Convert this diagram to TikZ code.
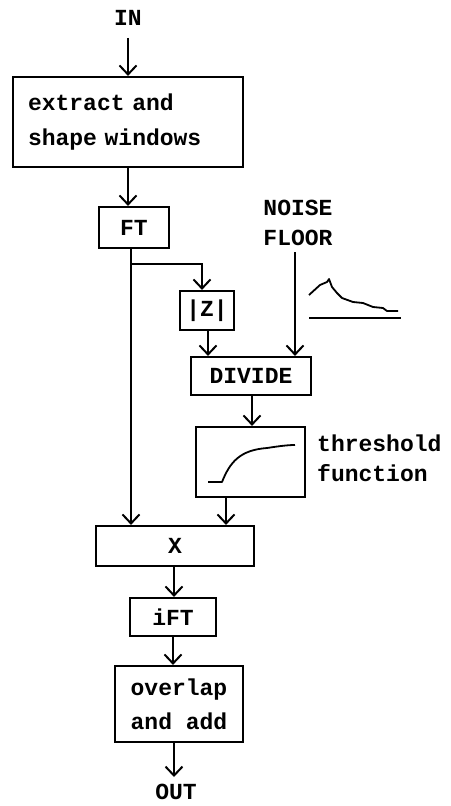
\documentclass[tikz,border=0pt]{standalone}
\usepackage{fontspec}
\setmainfont{Liberation Mono}
\usetikzlibrary{arrows.meta}
\begin{document}
\begin{tikzpicture}[x=1pt,y=-1pt,
  every node/.style={font=\fontsize{23}{30}\selectfont\bfseries, inner sep=0pt},
  blk/.style={draw, line width=2.2pt, inner sep=0pt},
  arr/.style={line width=2pt, -{Straight Barb[length=9pt,width=17pt,line width=2pt]}},
  ln/.style={line width=1.8pt, line join=round}]
\useasboundingbox (0,0) rectangle (450,806);
\node (in) at (128,18) {IN};
\node[blk, minimum width=230pt, minimum height=90pt, text width=200pt, align=left,
  font=\fontsize{23}{35}\selectfont\bfseries] (win) at (128,122) {extract and\\shape windows};
\node[blk, minimum width=70pt, minimum height=41pt] (ft) at (134,227.5) {FT};
\node[blk, minimum width=54pt, minimum height=39pt] (abs) at (207,310.5) {|Z|};
\node[align=center] (noise) at (298,223) {NOISE\\FLOOR};
\node[blk, minimum width=120pt, minimum height=38pt] (div) at (251,376) {DIVIDE};
\node[blk, minimum width=109pt, minimum height=70pt] (thr) at (250.5,462) {};
\node[align=left, anchor=west] (thrlab) at (317,458) {threshold\\function};
\node[blk, minimum width=158pt, minimum height=40pt] (x) at (175,546) {X};
\node[blk, minimum width=86pt, minimum height=38pt] (ift) at (173,617) {iFT};
\node[blk, minimum width=128pt, minimum height=76pt, align=center,
  font=\fontsize{23}{34}\selectfont\bfseries] (ola) at (179,704) {overlap\\and add};
\node (out) at (176,792) {OUT};
% connectors
\draw[arr, shorten <=12pt] (in.south) -- (in.south |- win.north);
\draw[arr] (win.south) -- (win.south |- ft.north);
\coordinate (ftl) at ([xshift=-3pt]ft.south);
\draw[arr] (ftl) -- (ftl |- x.north);
\coordinate (brk) at ([yshift=-15pt]ftl);
\coordinate (abst) at ([xshift=-5pt]abs.north);
\draw[arr] (brk) -| (abst);
\draw[arr] ([xshift=1pt]abs.south) -- ([xshift=1pt]abs.south |- div.north);
\coordinate (nft) at (295,252);
\draw[arr] (nft) -- (nft |- div.north);
\draw[arr] ([xshift=1pt]div.south) -- ([xshift=1pt]div.south |- thr.north);
\draw[arr] ([xshift=-24.5pt]thr.south) -- ([xshift=-24.5pt]thr.south |- x.north);
\draw[arr] ([xshift=-1pt]x.south) -- ([xshift=-1pt]x.south |- ift.north);
\draw[arr] (ift.south) -- (ift.south |- ola.north);
\coordinate (oute) at (174,777);
\draw[arr] (ola.south -| oute) -- (oute);
% threshold curve
\draw[ln] (208,482) -- (222,482) .. controls (230,462) and (240,450) .. (267,448) .. controls (280,446) and (288,445) .. (295,445);
% noise floor spectrum
\draw[ln] (309,295) -- (320,285) -- (327,282) -- (329,279) -- (332,287) -- (337,293) -- (342,298) -- (353,302) -- (363,303) -- (373,307) -- (383,308) -- (387,311) -- (398,311);
\draw[ln] (309,318) -- (401,318);
\end{tikzpicture}
\end{document}
